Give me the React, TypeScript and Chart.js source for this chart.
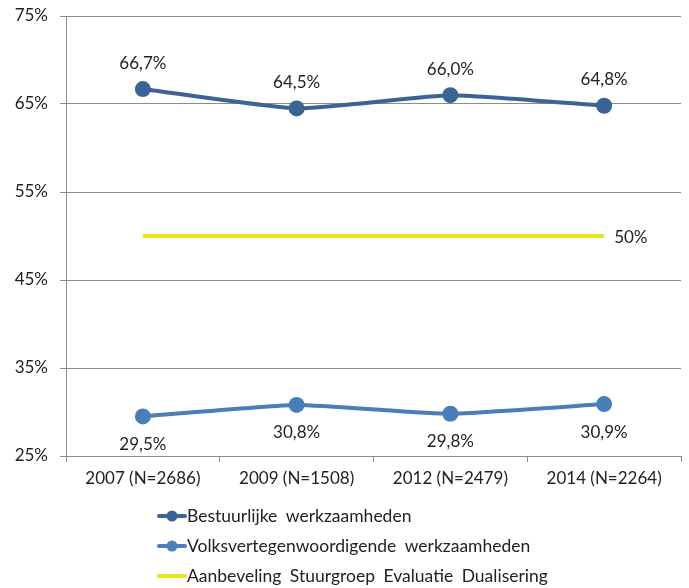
import React, { useEffect, useRef } from "react";
import { Chart, registerables } from "chart.js";

Chart.register(...registerables);

const categories = ["2007 (N=2686)", "2009 (N=1508)", "2012 (N=2479)", "2014 (N=2264)"];
const bestuurlijk = [66.7, 64.5, 66.0, 64.8];
const volks = [29.5, 30.8, 29.8, 30.9];
const aanbeveling = [50, 50, 50, 50];
const seriesNames = [
  "Bestuurlijke werkzaamheden",
  "Volksvertegenwoordigende werkzaamheden",
  "Aanbeveling Stuurgroep Evaluatie Dualisering",
];
const yTicks = [25, 35, 45, 55, 65, 75];

const FONT = "Lato";
const fmt = (v: number) => v.toFixed(1).replace(".", ",") + "%";

const labelPlugin = {
  id: "valueLabels",
  afterDatasetsDraw(chart: any) {
    const ctx = chart.ctx;
    ctx.save();
    ctx.font = `17px ${FONT}`;
    ctx.fillStyle = "#222";
    ctx.textAlign = "center";
    ctx.textBaseline = "middle";
    const m0 = chart.getDatasetMeta(0);
    m0.data.forEach((p: any, i: number) => {
      ctx.fillText(fmt(bestuurlijk[i]), p.x, p.y - 26);
    });
    const m1 = chart.getDatasetMeta(1);
    m1.data.forEach((p: any, i: number) => {
      ctx.fillText(fmt(volks[i]), p.x, p.y + 28);
    });
    const m2 = chart.getDatasetMeta(2);
    const last = m2.data[m2.data.length - 1];
    ctx.textAlign = "left";
    ctx.fillText(Math.round(aanbeveling[aanbeveling.length - 1]) + "%", last.x + 10, last.y + 2);
    ctx.restore();
  },
};

const legendPlugin = {
  id: "customLegend",
  afterDraw(chart: any) {
    const ctx = chart.ctx;
    ctx.save();
    const colors = ["#3A6496", "#4A7EBB", "#E8E41E"];
    const ys = [516, 546, 576];
    const x0 = 159;
    ctx.font = `17.5px ${FONT}`;
    ctx.textBaseline = "middle";
    ctx.textAlign = "left";
    (ctx as any).wordSpacing = "4px";
    seriesNames.forEach((name, i) => {
      const y = ys[i];
      ctx.strokeStyle = colors[i];
      ctx.lineWidth = 4;
      ctx.lineCap = "round";
      ctx.beginPath();
      ctx.moveTo(x0, y);
      ctx.lineTo(x0 + 26, y);
      ctx.stroke();
      if (i < 2) {
        ctx.fillStyle = colors[i];
        ctx.beginPath();
        ctx.arc(x0 + 13, y, 5.5, 0, Math.PI * 2);
        ctx.fill();
      }
      ctx.fillStyle = "#222";
      ctx.fillText(name, x0 + 28, y);
    });
    ctx.restore();
  },
};

export default function App() {
  const ref = useRef<HTMLCanvasElement>(null);
  useEffect(() => {
    document.body.style.margin = "0";
    const chart = new Chart(ref.current!, {
      type: "line",
      data: {
        labels: categories,
        datasets: [
          {
            label: seriesNames[0],
            data: bestuurlijk,
            borderColor: "#3A6496",
            backgroundColor: "#3A6496",
            borderWidth: 4,
            pointRadius: 8,
            pointBorderWidth: 0,
            tension: 0.15,
          },
          {
            label: seriesNames[1],
            data: volks,
            borderColor: "#4A7EBB",
            backgroundColor: "#4A7EBB",
            borderWidth: 4,
            pointRadius: 8,
            pointBorderWidth: 0,
            tension: 0.15,
          },
          {
            label: seriesNames[2],
            data: aanbeveling,
            borderColor: "#E8E41E",
            backgroundColor: "#E8E41E",
            borderWidth: 4,
            pointRadius: 0,
          },
        ],
      },
      options: {
        animation: false,
        responsive: false,
        layout: { padding: { top: 16, right: 5, bottom: 97, left: 0 } },
        plugins: { legend: { display: false }, tooltip: { enabled: false } },
        scales: {
          x: {
            offset: true,
            grid: { offset: true, drawOnChartArea: false, tickLength: 6, color: "#8c8c8c" },
            border: { color: "#8c8c8c" },
            ticks: { color: "#222", font: { family: FONT, size: 17 }, padding: 6 },
            afterFit: (s: any) => { s.height = 35; s.paddingLeft = 0; s.paddingRight = 0; },
          },
          y: {
            min: 25,
            max: 75,
            afterBuildTicks: (s: any) => { s.ticks = yTicks.map((v) => ({ value: v })); },
            grid: { color: "#8c8c8c", tickLength: 6 },
            border: { color: "#8c8c8c" },
            ticks: {
              color: "#222",
              font: { family: FONT, size: 17 },
              padding: 12,
              callback: (v: any) => v + "%",
            },
            afterFit: (s: any) => { s.width = 66; s.paddingTop = 0; s.paddingBottom = 0; },
          },
        },
      },
      plugins: [labelPlugin, legendPlugin],
    });
    return () => chart.destroy();
  }, []);
  return (
    <div style={{ position: "absolute", left: 0, top: 0, width: 689, height: 588 }}>
      <canvas ref={ref} width={689} height={588} />
    </div>
  );
}
